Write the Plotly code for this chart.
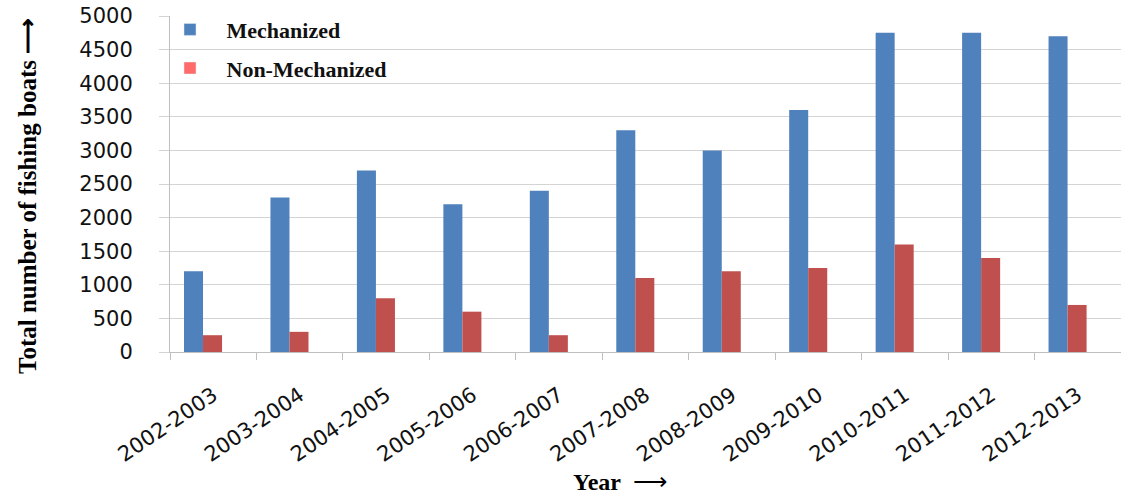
import plotly.graph_objects as go

# Fishing boat counts per season
years = ["2002-2003", "2003-2004", "2004-2005", "2005-2006", "2006-2007",
         "2007-2008", "2008-2009", "2009-2010", "2010-2011", "2011-2012",
         "2012-2013"]
mechanized = [1200, 2300, 2700, 2200, 2400, 3300, 3000, 3600, 4750, 4750, 4700]
non_mechanized = [250, 300, 800, 600, 250, 1100, 1200, 1250, 1600, 1400, 700]
y_ticks = [0, 500, 1000, 1500, 2000, 2500, 3000, 3500, 4000, 4500, 5000]

BLUE = "#4F81BD"
RED = "#C0504D"
LEGEND_RED = "#FF6B6B"
GRID = "#D4D4D4"

W, H = 1121, 498
left, top, bottom = 170, 16, 146

fig = go.Figure()

bar_w = 0.22
fig.add_trace(go.Bar(x=years, y=mechanized, name="Mechanized",
                     marker=dict(color=BLUE, line=dict(width=0)),
                     width=bar_w, offset=-0.338, showlegend=False))
fig.add_trace(go.Bar(x=years, y=non_mechanized, name="Non-Mechanized",
                     marker=dict(color=RED, line=dict(width=0)),
                     width=bar_w, offset=-0.338 + bar_w, showlegend=False))

# legend swatches
fig.add_trace(go.Bar(x=[years[0]], y=[None], name="<b>   Mechanized</b>",
                     marker_color=BLUE, legendgroup="a"))
fig.add_trace(go.Bar(x=[years[0]], y=[None], name="<b>   Non-Mechanized</b>",
                     marker_color=LEGEND_RED, legendgroup="b"))

serif = "Liberation Serif, Times New Roman, serif"
sans = "DejaVu Sans, sans-serif"

fig.update_layout(
    width=W, height=H,
    margin=dict(l=left, r=0, t=top, b=bottom, pad=0),
    paper_bgcolor="white", plot_bgcolor="white",
    barmode="overlay",
    showlegend=True,
    legend=dict(x=0.0, y=1.022, xanchor="left", yanchor="top",
                bgcolor="rgba(0,0,0,0)", tracegroupgap=7,
                font=dict(family=serif, size=22, color="#111111"),
                itemwidth=30),
    xaxis=dict(
        type="category", range=[-0.5, 10.5],
        showgrid=False, showline=True, linecolor="#BFBFBF", linewidth=1,
        ticks="outside", tickson="boundaries", ticklen=7,
        tickcolor="#BFBFBF", tickangle=-34,
        tickfont=dict(family=sans, size=21, color="#111111"),
        ticklabelstandoff=22,
    ),
    yaxis=dict(
        range=[0, 5000], tickvals=y_ticks,
        showgrid=True, gridcolor=GRID, gridwidth=1.3,
        showline=True, linecolor="#BFBFBF", linewidth=1,
        ticks="outside", ticklen=10, tickcolor=GRID,
        tickfont=dict(family=sans, size=21, color="#111111"),
        ticklabelstandoff=22, zeroline=False,
    ),
    annotations=[
        dict(text="<b>Total number of fishing boats ⟶</b>", textangle=-90,
             xref="paper", yref="paper",
             x=(27 - left) / (W - left), y=(352 - 196) / (352 - top),
             xanchor="center", yanchor="middle", showarrow=False,
             font=dict(family=serif, size=25, color="#000000")),
        dict(text="<b>Year</b>  ⟶", xref="paper", yref="paper",
             x=(620 - left) / (W - left), y=(352 - 482) / (352 - top),
             xanchor="center", yanchor="middle", showarrow=False,
             font=dict(family=serif, size=24, color="#000000")),
    ],
)

fig.write_html("out.html")
